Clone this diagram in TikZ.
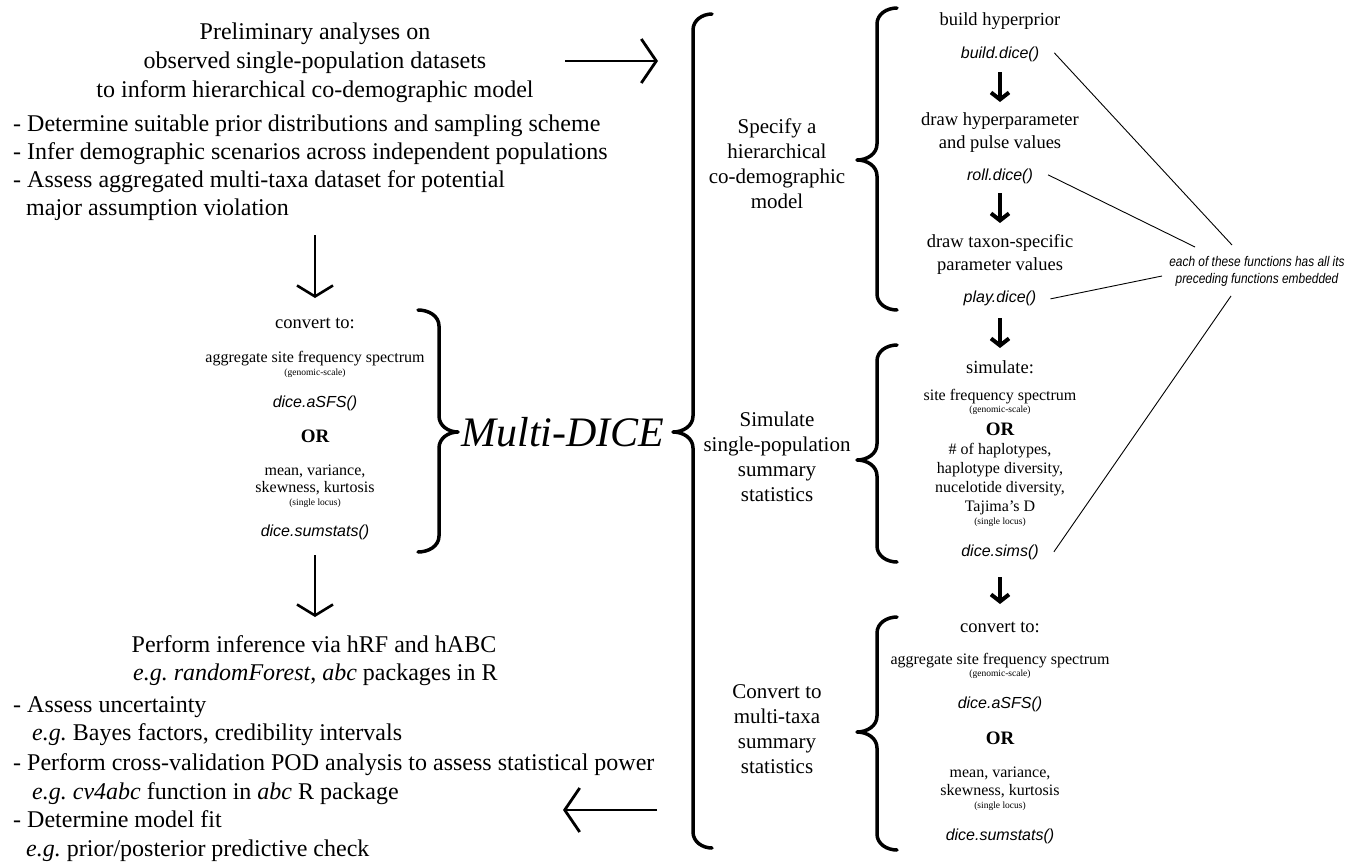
\documentclass[tikz,border=0pt]{standalone}
\usepackage{fontspec}
\setmainfont{Liberation Serif}
\newfontfamily\sansf{Liberation Sans}
\newfontfamily\notef[FakeStretch=0.85]{Liberation Sans}
\usetikzlibrary{arrows.meta}
\tikzset{
  txt/.style={inner sep=0pt, anchor=base},
  big/.style={txt, font=\fontsize{24}{28}\selectfont},
  bigl/.style={big, anchor=base west},
  mid/.style={txt, font=\fontsize{21}{25}\selectfont},
  head/.style={txt, font=\fontsize{18.5}{22}\selectfont},
  med/.style={txt, font=\fontsize{16}{19}\selectfont},
  tinyt/.style={txt, font=\fontsize{9.5}{11}\selectfont},
  orb/.style={txt, font=\fontsize{19}{22}\selectfont\bfseries},
  fun/.style={txt, font=\fontsize{16}{19}\sansf\itshape},
  notet/.style={txt, font=\fontsize{14}{16}\notef\itshape},
  bracel/.style={line width=3.5pt, line cap=round, line join=round},
  bigarrow/.style={line width=2.8pt, -{Straight Barb[length=15pt, width=44pt]}},
  downarrow/.style={line width=2.6pt, -{Straight Barb[length=11pt, width=36pt]}},
  blkarrow/.style={line width=4pt, -{Straight Barb[length=7pt, width=18pt]}},
  noteline/.style={line width=0.9pt}
}
% left-pointing brace: #1 line x, #2 top y, #3 bottom y, #4 tip y, #5 tip x, #6 hook x
\newcommand\bracetoleft[6]{%
  \draw[bracel] (#6,-#2) to[out=180,in=90] (#1,-#2-16) -- (#1,-#4+16)
    to[out=-90,in=0] (#5,-#4) to[out=0,in=90] (#1,-#4-16) -- (#1,-#3+16)
    to[out=-90,in=180] (#6,-#3);}
\newcommand\bracetoright[6]{%
  \draw[bracel] (#6,-#2) to[out=0,in=90] (#1,-#2-16) -- (#1,-#4+16)
    to[out=-90,in=180] (#5,-#4) to[out=180,in=90] (#1,-#4-16) -- (#1,-#3+16)
    to[out=-90,in=0] (#6,-#3);}
\begin{document}
\begin{tikzpicture}[x=1pt,y=1pt]
\useasboundingbox (0,0) rectangle (1357,-862);
\fill[white] (0,0) rectangle (1357,-862);

% ---------- top left ----------
\node[big] (pre1) at (315,-39) {Preliminary analyses on};
\node[big] (pre2) at (315,-68) {observed single-population datasets};
\node[big] (pre3) at (315,-97) {to inform hierarchical co-demographic model};
\node[bigl] (b1) at (13,-131) {- Determine suitable prior distributions and sampling scheme};
\node[bigl] (b2) at (13,-159) {- Infer demographic scenarios across independent populations};
\node[bigl] (b3) at (13,-187) {- Assess aggregated multi-taxa dataset for potential};
\node[bigl] (b3b) at (26,-215) {major assumption violation};

% ---------- left convert block ----------
\node[head] (lc1) at (315,-328.5) {convert to:};
\node[med] (lc2) at (315,-362) {aggregate site frequency spectrum};
\node[tinyt] (lc3) at (315,-375) {(genomic-scale)};
\node[fun] (lc4) at (315,-407) {dice.aSFS()};
\node[orb] (lc5) at (315,-442) {OR};
\node[med] (lc6) at (315,-475) {mean, variance,};
\node[med] (lc7) at (315,-492) {skewness, kurtosis};
\node[tinyt] (lc8) at (315,-505) {(single locus)};
\node[fun] (lc9) at (315,-536) {dice.sumstats()};

% ---------- Multi-DICE ----------
\node[txt, font=\fontsize{42}{50}\selectfont\itshape] (md) at (563,-446) {Multi-DICE};

% ---------- bottom left ----------
\node[big] (inf1) at (314,-652) {Perform inference via hRF and hABC};
\node[bigl] (inf2) at (133,-680) {\textit{e.g.\ randomForest}, \textit{abc} packages in R};
\node[bigl] (c1) at (13,-712) {- Assess uncertainty};
\node[bigl] (c1b) at (32,-740) {\textit{e.g.}\ Bayes factors, credibility intervals};
\node[bigl] (c2) at (13,-770) {- Perform cross-validation POD analysis to assess statistical power};
\node[bigl] (c2b) at (32,-799) {\textit{e.g.\ cv4abc} function in \textit{abc} R package};
\node[bigl] (c3) at (13,-827) {- Determine model fit};
\node[bigl] (c3b) at (26,-856) {\textit{e.g.}\ prior/posterior predictive check};

% ---------- middle labels ----------
\node[mid] (s1) at (777,-133) {Specify a};
\node[mid] (s2) at (777,-158) {hierarchical};
\node[mid] (s3) at (777,-183) {co-demographic};
\node[mid] (s4) at (777,-208) {model};
\node[mid] (m1) at (777,-426) {Simulate};
\node[mid] (m2) at (777,-451) {single-population};
\node[mid] (m3) at (777,-476) {summary};
\node[mid] (m4) at (777,-501) {statistics};
\node[mid] (k1) at (777,-698) {Convert to};
\node[mid] (k2) at (777,-723) {multi-taxa};
\node[mid] (k3) at (777,-748) {summary};
\node[mid] (k4) at (777,-773) {statistics};

% ---------- right column ----------
\node[head] (r1) at (1000,-25.5) {build hyperprior};
\node[fun] (bd) at (1000,-58) {build.dice()};
\node[head] (r2) at (1000,-125.5) {draw hyperparameter};
\node[head] (r3) at (1000,-148.5) {and pulse values};
\node[fun] (rd) at (1000,-180) {roll.dice()};
\node[head] (r4) at (1000,-247.5) {draw taxon-specific};
\node[head] (r5) at (1000,-270.5) {parameter values};
\node[fun] (pd) at (1000,-302) {play.dice()};
\node[head] (r6) at (1000,-373.5) {simulate:};
\node[med] (r7) at (1000,-400) {site frequency spectrum};
\node[tinyt] (r8) at (1000,-412) {(genomic-scale)};
\node[orb] (r9) at (1000,-435) {OR};
\node[med] (r10) at (1000,-454) {\# of haplotypes,};
\node[med] (r11) at (1000,-473) {haplotype diversity,};
\node[med] (r12) at (1000,-492) {nucelotide diversity,};
\node[med] (r13) at (1000,-511) {Tajima’s D};
\node[tinyt] (r14) at (1000,-524) {(single locus)};
\node[fun] (ds) at (1000,-556) {dice.sims()};
\node[head] (r15) at (1000,-632.5) {convert to:};
\node[med] (r16) at (1000,-664) {aggregate site frequency spectrum};
\node[tinyt] (r17) at (1000,-676) {(genomic-scale)};
\node[fun] (r18) at (1000,-708) {dice.aSFS()};
\node[orb] (r19) at (1000,-744) {OR};
\node[med] (r20) at (1000,-777) {mean, variance,};
\node[med] (r21) at (1000,-795) {skewness, kurtosis};
\node[tinyt] (r22) at (1000,-808) {(single locus)};
\node[fun] (r23) at (1000,-840) {dice.sumstats()};

% ---------- note ----------
\node[notet] (nt1) at (1257,-266) {each of these functions has all its};
\node[notet] (nt2) at (1257,-283) {preceding functions embedded};
\coordinate (n1) at (1232,-245);
\coordinate (n2) at (1195,-247);
\coordinate (n3) at (1162,-276);
\coordinate (n4) at (1231,-296);
\draw[noteline] ([xshift=15pt,yshift=1pt]bd.east) -- (n1);
\draw[noteline] ([xshift=15pt,yshift=1pt]rd.east) -- (n2);
\draw[noteline] ([xshift=14pt,yshift=-1pt]pd.east) -- (n3);
\draw[noteline] ([xshift=15pt,yshift=0pt]ds.east) -- (n4);

% ---------- braces ----------
\bracetoleft{693}{14}{848}{432}{673}{712}
\bracetoleft{877}{8}{310}{160}{857}{897}
\bracetoleft{877}{345}{562}{460}{857}{897}
\bracetoleft{877}{617}{850}{732}{857}{897}
\bracetoright{439}{310}{552}{432}{458}{418}

% ---------- arrows ----------
\coordinate (a1s) at (565,-61);  \coordinate (a1e) at (658,-61);
\coordinate (a2s) at (315,-235); \coordinate (a2e) at (315,-298);
\coordinate (a3s) at (315,-555); \coordinate (a3e) at (315,-617);
\coordinate (a4s) at (657,-810); \coordinate (a4e) at (563,-810);
\draw[bigarrow] (a1s) -- (a1e);
\draw[downarrow] (a2s) -- (a2e);
\draw[downarrow] (a3s) -- (a3e);
\draw[bigarrow] (a4s) -- (a4e);

\coordinate (t1s) at (1000,-72);  \coordinate (t1e) at (1000,-102);
\coordinate (t2s) at (1000,-193); \coordinate (t2e) at (1000,-223);
\coordinate (t3s) at (1000,-318); \coordinate (t3e) at (1000,-348);
\coordinate (t4s) at (1000,-577); \coordinate (t4e) at (1000,-604);
\draw[blkarrow] (t1s) -- (t1e);
\draw[blkarrow] (t2s) -- (t2e);
\draw[blkarrow] (t3s) -- (t3e);
\draw[blkarrow] (t4s) -- (t4e);
\end{tikzpicture}
\end{document}
